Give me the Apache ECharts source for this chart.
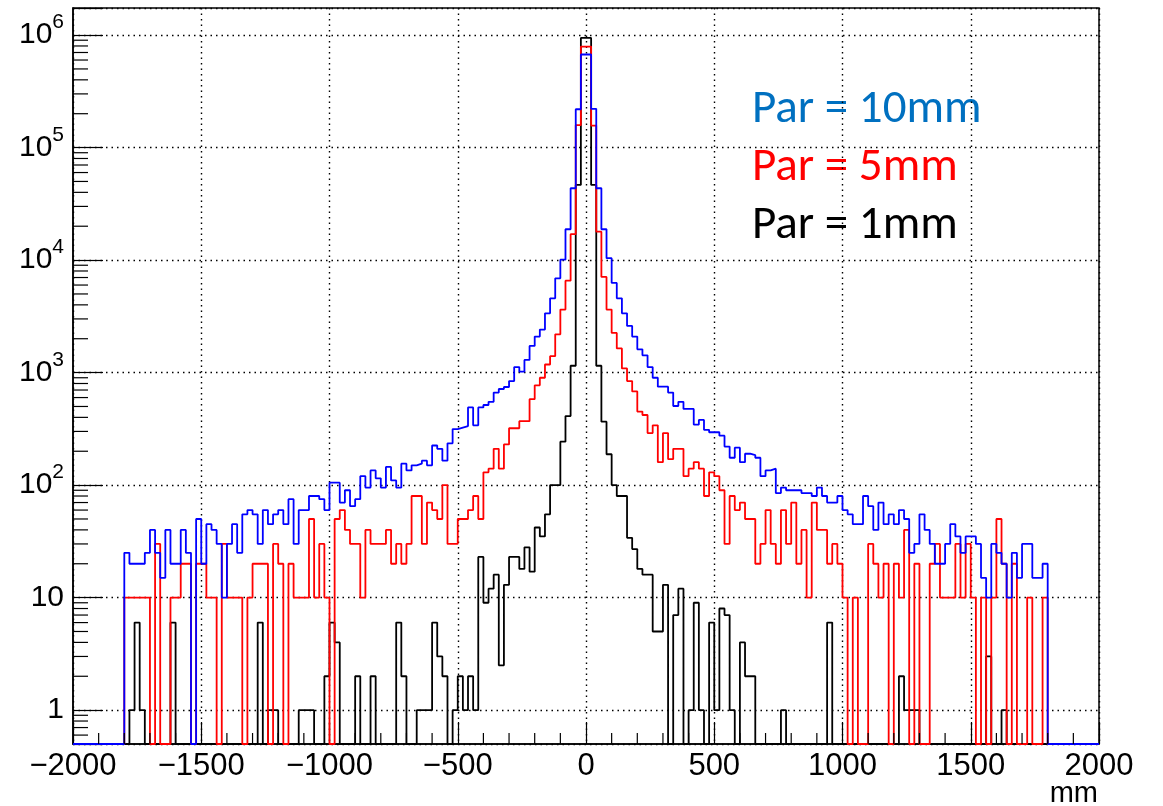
<!DOCTYPE html>
<html>
<head>
<meta charset="utf-8">
<script src="https://cdn.jsdelivr.net/npm/echarts@6/dist/echarts.min.js"></script>
<style>
  html, body { margin: 0; padding: 0; background: #ffffff; }
  #chart { width: 1163px; height: 806px; }
</style>
</head>
<body>
<div id="chart"></div>
<script>
// Histogram binning: 200 bins of 20 mm covering -2000 .. 2000 mm
const BIN_LOW = -2000;
const BIN_WIDTH = 20;
const X_MIN = -2000, X_MAX = 2000, X_STEP = 500, X_MINOR_STEP = 100;
const Y_MIN = 0.5, Y_MAX = 1.74e6;

// Bin contents (one row = 10 bins = 200 mm)
const countsPar10 = [
  0,0,0,0,0,0,0,0,0,0,
  25,20,20,20,25,40,25,15,40,20,
  20,40,25,0,50,20,45,40,30,10,
  30,45,25,55,60,55,30,60,45,55,
  60,45,75,30,60,60,80,80,75,60,
  105,105,70,90,65,75,120,95,135,115,
  95,145,110,95,155,135,150,155,165,150,
  225,210,165,235,315,325,335,490,340,490,
  515,550,665,715,745,840,1120,1020,1295,1725,
  2090,2410,3365,4570,6890,10090,18800,43500,219000,672000,
  672000,221000,43500,18800,10400,6270,4570,3365,2600,2090,
  1610,1425,1120,900,750,750,665,505,550,475,
  475,345,380,310,295,295,275,220,175,215,
  160,190,185,175,120,135,140,85,95,90,
  90,90,85,85,80,95,80,70,70,80,
  60,55,45,45,80,65,40,70,45,55,
  45,60,50,25,30,55,40,30,20,20,
  30,45,35,25,35,35,30,15,10,30,
  25,20,10,25,15,30,30,15,15,20,
  0,0,0,0,0,0,0,0,0,0
];

const countsPar5 = [
  0,0,0,0,0,0,0,0,0,0,
  10,10,10,10,10,0,30,0,0,10,
  10,20,20,0,20,20,10,10,0,30,
  10,10,10,0,10,20,20,20,0,30,
  20,0,20,10,10,10,50,10,30,10,
  0,50,60,40,30,30,10,40,30,30,
  30,40,20,30,20,30,80,80,30,70,
  60,50,100,30,30,50,50,60,80,50,
  130,140,210,140,230,320,320,370,370,580,
  770,900,1180,1400,2190,3630,6560,17000,158000,790000,
  790000,157000,17900,7090,3630,2250,1640,1090,840,680,
  450,420,290,340,160,290,170,210,210,120,
  140,160,140,80,130,120,90,30,80,60,
  70,50,50,20,30,60,30,20,60,30,
  70,20,40,10,70,40,40,20,30,20,
  10,0,10,0,0,30,20,10,20,0,
  20,10,40,0,20,0,0,20,30,10,
  10,10,30,10,30,10,0,10,0,10,
  50,20,0,20,0,0,10,0,0,10,
  0,0,0,0,0,0,0,0,0,0
];

const countsPar1 = [
  0,0,0,0,0,0,0,0,0,0,
  0,1,6,1,0,0,0,0,0,6,
  0,0,0,0,0,0,0,0,0,0,
  0,0,0,0,0,0,6,0,1,1,
  0,0,0,0,1,1,1,0,0,2,
  6,4,0,0,0,2,0,0,2,0,
  0,0,0,6,2,0,0,1,1,1,
  6,3,2,0,1,2,1,2,1,23,
  9,12,16,2.5,13,23,23,18,28,17,
  42,35,55,100,100,243,411,1150,46600,944000,
  944000,46600,1150,366,188,100,80,80,34,27,
  18,16,16,5,5,13,0,7,12,0,
  1,9,1,0,6,1,8,7,1,0,
  4,2,2,0,0,0,0,0,1,0,
  0,0,0,0,0,0,0,6,0,0,
  0,0,0,0,0,0,0,0,0,0,
  0,2,1,1,1,0,0,0,0,0,
  0,0,0,0,0,0,0,0,3,0,
  0,1,0,0,0,0,0,0,0,0,
  0,0,0,0,0,0,0,0,0,0
];

const legendLabels = ['Par = 10mm', 'Par = 5mm', 'Par = 1mm'];
const axisTitleX = 'mm';

// Step outline: one point per lower bin edge plus the closing upper edge.
// Empty bins sit on the bottom of the frame, as on a log scale.
function outline(counts) {
  const pts = counts.map((c, i) => [BIN_LOW + i * BIN_WIDTH, c > 0 ? c : Y_MIN]);
  const last = counts[counts.length - 1];
  pts.push([BIN_LOW + counts.length * BIN_WIDTH, last > 0 ? last : Y_MIN]);
  return pts;
}

// Minor tick positions: 2..9 per decade on y, every 100 mm on x
const minorTicks = [];
for (let e = -1; e <= 6; e++) {
  for (let m = 2; m <= 9; m++) {
    const v = m * Math.pow(10, e);
    if (v > Y_MIN && v < Y_MAX) minorTicks.push([X_MIN, v, 0]);
  }
}
for (let x = X_MIN + X_MINOR_STEP; x < X_MAX; x += X_MINOR_STEP) {
  if (x % X_STEP !== 0) minorTicks.push([x, Y_MIN, 1]);
}

const AXIS_FONT = '"Liberation Sans", Arial, Helvetica, sans-serif';
const LEGEND_FONT = 'Carlito, Calibri, "Open Sans", sans-serif';
const gridDots = { color: '#000', width: 1.4, type: [1.5, 4] };

const chart = echarts.init(document.getElementById('chart'), null, { renderer: 'canvas' });

const lineSeries = (name, counts, color) => ({
  name: name,
  type: 'line',
  step: 'end',
  data: outline(counts),
  showSymbol: false,
  symbol: 'none',
  silent: true,
  clip: true,
  lineStyle: { color: color, width: 1.8 },
  animation: false
});

const legendText = (label, y, color) => ({
  type: 'text', x: 752, y: y,
  style: {
    text: label, fill: color, font: '47px ' + LEGEND_FONT,
    align: 'left', verticalAlign: 'middle', textAlign: 'left', textVerticalAlign: 'middle'
  }
});

chart.setOption({
  animation: false,
  backgroundColor: '#ffffff',
  grid: {
    left: 73, right: 64, top: 8, bottom: 62,
    show: true, borderColor: '#000', borderWidth: 1.5, backgroundColor: 'transparent'
  },
  xAxis: {
    type: 'value',
    min: X_MIN, max: X_MAX, interval: X_STEP,
    axisLine: { show: true, onZero: false, lineStyle: { color: '#000', width: 1.5 } },
    axisTick: { show: true, inside: true, length: 22, lineStyle: { color: '#000', width: 1.2 } },
    axisLabel: {
      color: '#000', fontSize: 31, fontFamily: AXIS_FONT, margin: 7,
      formatter: v => (v < 0 ? '\u2212' + Math.abs(v) : String(v))
    },
    splitLine: { show: true, lineStyle: gridDots }
  },
  yAxis: {
    type: 'log', logBase: 10,
    min: Y_MIN, max: Y_MAX, splitNumber: 7,
    axisLine: { show: true, onZero: false, lineStyle: { color: '#000', width: 1.5 } },
    axisTick: { show: true, inside: true, length: 30, lineStyle: { color: '#000', width: 1.2 } },
    axisLabel: {
      color: '#000', fontFamily: AXIS_FONT, margin: 9, padding: [0, 0, 8, 0],
      formatter: v => {
        const e = Math.round(Math.log10(v));
        if (Math.abs(v - Math.pow(10, e)) > 1e-6 * v) return '';
        if (e === 0) return '{b|1}';
        if (e === 1) return '{b|10}';
        return '{b|10}{s|' + e + '}';
      },
      rich: {
        b: { fontSize: 30, fontFamily: AXIS_FONT, color: '#000', lineHeight: 38, verticalAlign: 'bottom' },
        s: { fontSize: 21, fontFamily: AXIS_FONT, color: '#000', lineHeight: 38, verticalAlign: 'top' }
      }
    },
    splitLine: { show: true, lineStyle: gridDots }
  },
  series: [
    lineSeries(legendLabels[2], countsPar1, '#000000'),
    lineSeries(legendLabels[1], countsPar5, '#ff0000'),
    lineSeries(legendLabels[0], countsPar10, '#0000ff'),
    {
      type: 'custom',
      silent: true,
      clip: false,
      z: 5,
      data: minorTicks,
      encode: { x: 0, y: 1 },
      renderItem: (params, api) => {
        const p = api.coord([api.value(0), api.value(1)]);
        const onY = api.value(2) === 0;
        return {
          type: 'line',
          shape: onY
            ? { x1: p[0], y1: p[1], x2: p[0] + 15, y2: p[1] }
            : { x1: p[0], y1: p[1], x2: p[0], y2: p[1] - 11 },
          style: { stroke: '#000', lineWidth: 1.2 }
        };
      },
      animation: false
    }
  ],
  graphic: [
    legendText(legendLabels[0], 110, '#0070c0'),
    legendText(legendLabels[1], 168, '#ff0000'),
    legendText(legendLabels[2], 226, '#000000'),
    { type: 'text', x: 1098, y: 794, style: { text: axisTitleX, fill: '#000', font: '29px ' + AXIS_FONT, align: 'right', verticalAlign: 'middle', textAlign: 'right', textVerticalAlign: 'middle' } }
  ]
});
</script>
</body>
</html>
